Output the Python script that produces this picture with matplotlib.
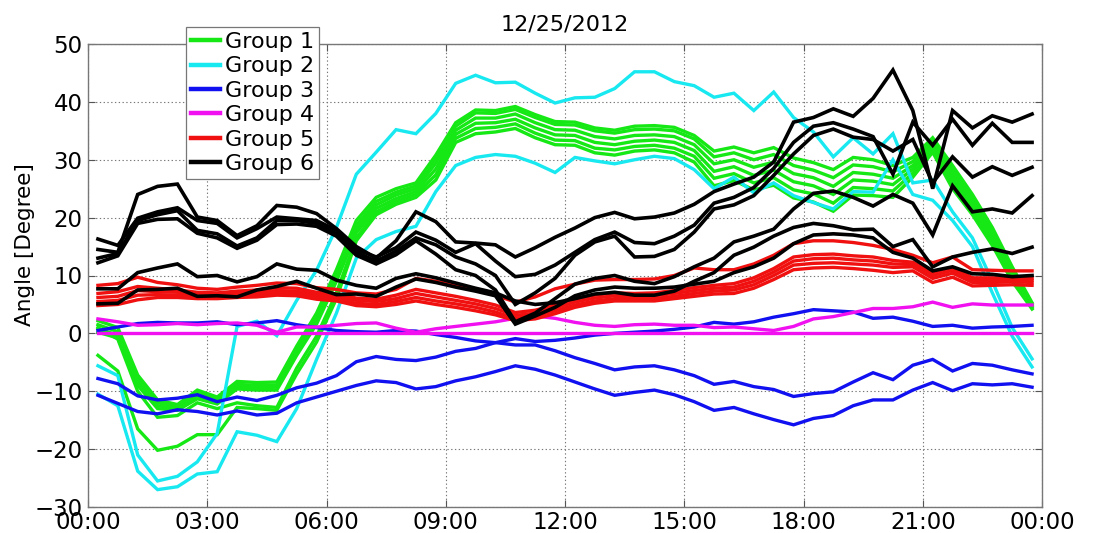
import matplotlib
matplotlib.use('Agg')
import matplotlib.pyplot as plt
import numpy as np

# time axis (hours of the day), 30-min samples
hours = np.arange(0.25, 24.0, 0.5)

# ---- Group 1 (green)
g1_a = [2.2, 1.0, -7.2, -11.5, -12.3, -9.8, -11.0, -8.3, -8.5, -8.4, -2.2, 3.5, 11.0, 19.5, 23.5, 25.0, 26.0, 30.8, 36.4, 38.6, 38.5, 39.2, 37.8, 36.6, 36.5, 35.5, 35.1, 35.8, 35.9, 35.6, 34.2, 31.5, 32.2, 31.2, 32.1, 30.3, 29.5, 28.3, 30.4, 30.0, 29.0, 30.4, 33.8, 29.0, 24.0, 18.3, 11.5, 5.3]
g1_b = [1.5, 0.3, -7.8, -12.0, -12.6, -10.3, -11.4, -8.8, -9.0, -8.9, -2.8, 2.8, 10.3, 18.7, 22.8, 24.4, 25.5, 30.2, 35.8, 38.1, 38.0, 38.7, 37.3, 36.1, 36.0, 35.0, 34.6, 35.2, 35.3, 35.0, 33.6, 30.5, 31.2, 30.0, 30.9, 29.0, 28.2, 26.9, 29.1, 28.8, 27.9, 29.7, 33.3, 28.2, 23.3, 17.6, 11.0, 5.0]
g1_c = [0.8, -0.3, -8.4, -12.5, -13.0, -10.8, -11.8, -9.2, -9.4, -9.3, -3.3, 2.2, 9.6, 18.0, 22.2, 23.9, 25.0, 29.4, 35.1, 37.2, 37.2, 37.9, 36.4, 35.2, 35.1, 34.0, 33.6, 34.2, 34.3, 34.0, 32.6, 29.3, 30.0, 28.7, 29.6, 27.6, 26.9, 25.4, 27.8, 27.5, 26.8, 29.0, 32.8, 27.4, 22.6, 17.0, 10.5, 4.8]
g1_d = [0.2, -0.8, -9.0, -13.0, -13.3, -11.3, -12.2, -9.6, -9.8, -9.8, -3.8, 1.6, 9.0, 17.4, 21.6, 23.3, 24.5, 28.4, 34.4, 36.3, 36.4, 37.0, 35.5, 34.3, 34.2, 33.0, 32.6, 33.2, 33.4, 33.0, 31.6, 28.0, 28.8, 27.3, 28.2, 26.2, 25.5, 24.0, 26.5, 26.3, 25.7, 28.4, 32.3, 26.6, 21.9, 16.4, 10.0, 4.6]
g1_e = [1.0, -1.0, -10.0, -14.5, -14.2, -12.0, -13.0, -12.0, -12.5, -12.8, -6.0, -0.5, 7.0, 16.5, 21.0, 22.8, 24.0, 27.4, 33.7, 35.4, 35.6, 36.2, 34.6, 33.4, 33.3, 32.0, 31.7, 32.3, 32.5, 32.0, 30.6, 26.8, 27.6, 26.0, 26.9, 24.8, 24.1, 22.5, 25.2, 25.0, 24.6, 27.7, 31.8, 25.8, 21.2, 15.8, 9.5, 4.4]
g1_f = [-3.8, -6.5, -16.5, -20.2, -19.5, -17.5, -17.5, -12.8, -13.0, -13.3, -7.0, -1.5, 6.0, 16.0, 20.5, 22.3, 23.5, 26.5, 33.0, 34.5, 34.8, 35.4, 33.8, 32.6, 32.5, 31.2, 30.8, 31.5, 31.7, 31.2, 29.6, 25.5, 26.4, 24.8, 25.6, 23.4, 22.7, 21.1, 23.9, 23.8, 23.5, 27.0, 31.3, 25.0, 20.5, 15.2, 9.0, 4.2]

# ---- Group 2 (cyan)
g2_a = [-5.6, -7.3, -21.0, -25.5, -24.7, -22.2, -17.3, 1.2, 2.1, -0.4, 5.7, 10.9, 18.3, 27.5, 31.3, 35.2, 34.5, 38.0, 43.2, 44.6, 43.3, 43.4, 41.5, 39.8, 40.7, 40.8, 42.3, 45.2, 45.2, 43.5, 42.8, 40.8, 41.5, 38.5, 41.7, 37.3, 34.8, 30.5, 33.8, 31.0, 34.5, 26.0, 26.5, 21.0, 16.5, 9.0, 1.0, -4.4]
g2_b = [-10.5, -12.5, -23.8, -27.0, -26.5, -24.3, -23.9, -17.0, -17.6, -18.7, -13.0, -4.5, 3.5, 13.0, 16.2, 17.6, 18.5, 24.5, 29.0, 30.4, 30.9, 30.6, 29.4, 27.8, 30.4, 29.8, 29.3, 30.0, 30.6, 30.2, 28.3, 25.0, 27.0, 24.3, 26.0, 23.8, 22.6, 21.5, 24.5, 24.4, 30.0, 24.0, 23.0, 19.5, 15.0, 7.0, -0.5, -5.8]

# ---- Group 3 (blue)
g3_a = [0.5, 1.1, 1.7, 1.9, 1.8, 1.8, 2.0, 1.5, 1.8, 2.2, 1.5, 1.0, 0.5, 0.3, 0.2, 0.5, 0.4, -0.2, -0.7, -1.3, -1.6, -2.0, -2.0, -3.0, -4.2, -5.2, -6.3, -5.8, -5.6, -6.3, -7.3, -8.8, -8.3, -9.2, -9.7, -10.9, -10.4, -10.1, -8.4, -6.8, -8.0, -5.5, -4.5, -6.5, -5.2, -5.5, -6.3, -7.0]
g3_b = [-7.8, -8.7, -10.8, -11.5, -11.2, -10.6, -11.8, -11.0, -11.6, -10.7, -9.4, -8.6, -7.3, -4.9, -4.0, -4.5, -4.7, -4.1, -3.1, -2.6, -1.6, -0.9, -1.4, -1.2, -0.8, -0.3, 0.0, 0.2, 0.4, 0.7, 1.1, 1.9, 1.6, 2.0, 2.8, 3.4, 4.1, 3.9, 3.7, 2.6, 2.8, 2.1, 1.2, 1.4, 0.9, 1.1, 1.2, 1.4]
g3_c = [-10.7, -12.1, -13.5, -13.9, -13.2, -13.5, -14.1, -13.4, -14.1, -13.8, -12.0, -11.0, -10.0, -9.0, -8.2, -8.5, -9.6, -9.2, -8.2, -7.5, -6.6, -5.6, -6.2, -7.2, -8.4, -9.6, -10.7, -10.2, -9.8, -10.6, -11.8, -13.3, -12.8, -13.9, -14.9, -15.8, -14.7, -14.2, -12.5, -11.5, -11.5, -9.8, -8.5, -9.9, -8.7, -8.9, -8.7, -9.3]

# ---- Group 4 (magenta)
g4_a = [0.0, 0.0, 0.0, 0.0, 0.0, 0.0, 0.0, 0.0, 0.0, 0.0, 0.0, 0.0, 0.0, 0.0, 0.0, 0.0, 0.0, 0.0, 0.0, 0.0, 0.0, 0.0, 0.0, 0.0, 0.0, 0.0, 0.0, 0.0, 0.0, 0.0, 0.0, 0.0, 0.0, 0.0, 0.0, 0.0, 0.0, 0.0, 0.0, 0.0, 0.0, 0.0, 0.0, 0.0, 0.0, 0.0, 0.0, 0.0]
g4_b = [2.5, 2.0, 1.4, 1.5, 1.7, 1.5, 1.7, 1.8, 1.4, 0.2, 1.1, 1.1, 1.4, 1.7, 1.8, 0.9, 0.2, 0.8, 1.2, 1.6, 2.0, 2.6, 3.0, 2.6, 1.9, 1.4, 1.2, 1.5, 1.6, 1.4, 1.4, 1.0, 1.1, 0.8, 0.5, 1.2, 2.5, 2.9, 3.6, 4.3, 4.3, 4.6, 5.4, 4.5, 5.1, 4.9, 4.9, 4.9]

# ---- Group 5 (red)
g5_a = [8.3, 8.6, 9.7, 8.8, 8.4, 7.8, 7.6, 8.0, 8.3, 8.7, 8.6, 7.9, 7.6, 7.0, 6.8, 7.6, 9.5, 9.0, 8.3, 7.6, 6.6, 5.4, 6.3, 7.7, 8.5, 9.2, 9.3, 9.3, 9.4, 10.0, 11.3, 11.0, 11.0, 12.0, 13.5, 15.5, 16.0, 16.0, 15.7, 15.2, 14.5, 13.5, 12.2, 13.2, 11.0, 10.9, 10.8, 10.8]
g5_b = [6.9, 7.2, 8.1, 7.8, 7.5, 7.1, 7.0, 7.3, 7.5, 7.9, 7.8, 7.1, 6.8, 6.1, 5.9, 6.6, 7.6, 7.0, 6.4, 5.7, 4.9, 3.6, 4.0, 4.9, 5.9, 6.6, 7.0, 6.9, 7.0, 7.4, 7.9, 8.3, 8.6, 9.6, 11.2, 13.2, 13.6, 13.7, 13.4, 13.2, 12.6, 12.3, 10.5, 11.4, 9.6, 9.6, 9.6, 9.5]
g5_c = [6.2, 6.4, 7.4, 7.2, 7.1, 6.7, 6.6, 6.9, 7.1, 7.4, 7.3, 6.7, 6.4, 5.7, 5.5, 6.0, 6.9, 6.3, 5.7, 5.1, 4.3, 3.1, 3.5, 4.4, 5.4, 6.1, 6.5, 6.4, 6.5, 6.9, 7.4, 7.8, 8.0, 9.0, 10.6, 12.5, 12.9, 13.0, 12.7, 12.5, 12.0, 11.9, 10.0, 10.9, 9.2, 9.2, 9.3, 9.2]
g5_d = [5.5, 5.7, 6.6, 6.7, 6.6, 6.4, 6.3, 6.6, 6.7, 7.0, 6.9, 6.3, 6.0, 5.2, 5.0, 5.5, 6.2, 5.6, 5.1, 4.5, 3.7, 2.6, 3.0, 3.9, 4.9, 5.6, 6.0, 6.0, 6.0, 6.4, 6.9, 7.3, 7.5, 8.4, 10.0, 11.8, 12.1, 12.2, 12.0, 11.8, 11.4, 11.5, 9.5, 10.4, 8.8, 8.8, 8.9, 8.8]
g5_e = [4.8, 5.0, 5.8, 6.2, 6.2, 6.0, 6.0, 6.2, 6.3, 6.6, 6.5, 5.9, 5.6, 4.8, 4.6, 5.0, 5.6, 5.0, 4.5, 3.9, 3.2, 2.2, 2.5, 3.4, 4.5, 5.2, 5.6, 5.6, 5.6, 6.0, 6.4, 6.8, 6.9, 7.8, 9.3, 11.0, 11.3, 11.4, 11.2, 10.9, 10.5, 10.8, 8.8, 9.7, 8.2, 8.3, 8.4, 8.3]

# ---- Group 6 (black)
g6_a = [14.5, 14.0, 24.0, 25.4, 25.8, 20.1, 19.5, 16.9, 18.6, 22.1, 21.8, 20.7, 18.1, 15.0, 13.0, 16.0, 21.0, 19.3, 15.8, 15.6, 15.3, 13.2, 14.8, 16.6, 18.2, 20.0, 20.9, 19.8, 20.1, 20.8, 22.3, 24.5, 25.8, 27.0, 29.6, 36.5, 37.3, 38.8, 37.5, 40.6, 45.5, 38.5, 25.0, 38.5, 35.5, 37.6, 36.5, 37.9]
g6_b = [16.3, 15.2, 19.9, 21.0, 21.7, 19.5, 19.0, 16.5, 18.1, 20.1, 19.8, 19.5, 17.8, 14.5, 13.2, 14.8, 17.5, 16.1, 14.0, 15.5, 12.5, 9.8, 10.2, 11.8, 14.0, 16.2, 17.5, 15.7, 15.5, 16.8, 18.7, 22.5, 23.5, 25.2, 28.5, 33.0, 35.8, 36.4, 35.3, 34.0, 27.5, 36.5, 32.5, 37.0, 32.5, 36.3, 33.0, 33.0]
g6_c = [13.0, 13.8, 19.5, 20.5, 21.2, 17.8, 17.2, 15.1, 16.5, 19.5, 19.5, 19.0, 17.2, 14.0, 12.5, 14.2, 16.5, 15.3, 13.2, 12.0, 10.0, 5.0, 7.0, 9.5, 13.5, 15.8, 16.8, 13.2, 13.3, 14.5, 17.5, 21.5, 22.2, 23.8, 27.3, 31.0, 34.2, 35.3, 33.9, 33.5, 31.5, 33.5, 26.0, 30.5, 27.0, 28.8, 27.3, 28.7]
g6_d = [12.2, 13.4, 19.0, 19.7, 19.8, 17.3, 16.5, 14.7, 16.1, 18.8, 18.9, 18.5, 16.8, 13.5, 12.0, 13.6, 16.0, 13.7, 11.0, 10.0, 7.5, 2.0, 3.5, 6.0, 8.5, 9.5, 10.0, 9.0, 8.6, 9.8, 11.5, 13.0, 15.8, 16.8, 18.0, 21.5, 24.2, 24.6, 23.5, 22.0, 24.0, 22.5, 17.0, 25.5, 21.0, 21.5, 20.8, 23.8]
g6_e = [7.7, 7.7, 10.5, 11.3, 12.0, 9.8, 10.0, 8.9, 9.8, 12.0, 11.1, 10.9, 9.2, 8.3, 7.8, 9.5, 10.3, 9.6, 8.7, 7.8, 7.0, 5.6, 5.0, 5.3, 6.0, 6.8, 7.1, 6.6, 6.6, 7.3, 9.0, 10.5, 13.5, 14.9, 16.8, 18.3, 19.0, 18.6, 17.9, 18.0, 15.0, 16.2, 11.5, 13.2, 14.0, 14.6, 13.8, 14.9]
g6_f = [5.1, 5.2, 7.5, 7.6, 7.8, 6.4, 6.5, 6.3, 7.5, 8.1, 9.0, 7.8, 6.7, 6.8, 6.4, 8.0, 9.4, 8.8, 8.0, 7.3, 6.5, 1.6, 3.0, 4.5, 6.5, 7.5, 8.0, 7.8, 7.8, 8.0, 8.5, 9.0, 10.5, 11.5, 13.0, 15.5, 17.0, 17.2, 17.0, 16.5, 14.0, 13.0, 10.8, 11.5, 10.3, 10.2, 9.8, 10.0]

group_names = ['Group 1', 'Group 2', 'Group 3', 'Group 4', 'Group 5', 'Group 6']
group_colors = ['#16e816', '#18e8f0', '#1010f0', '#f010f0', '#f01010', '#000000']
groups = [
    [g1_a, g1_b, g1_c, g1_d, g1_e, g1_f],
    [g2_a, g2_b],
    [g3_a, g3_b, g3_c],
    [g4_a, g4_b],
    [g5_a, g5_b, g5_c, g5_d, g5_e],
    [g6_a, g6_b, g6_c, g6_d, g6_e, g6_f],
]

x_ticks = [0, 3, 6, 9, 12, 15, 18, 21, 24]
x_tick_labels = ['00:00', '03:00', '06:00', '09:00', '12:00', '15:00', '18:00', '21:00', '00:00']
y_ticks = [-30, -20, -10, 0, 10, 20, 30, 40, 50]

plt.rcParams['font.family'] = ['DejaVu Sans']

W, H = 1095, 533
fig = plt.figure(figsize=(W / 100, H / 100), dpi=100)
ax = fig.add_axes([88 / W, 1 - 507 / H, (1042 - 88) / W, (507 - 44) / H])

handles = []
for name, color, lines in zip(group_names, group_colors, groups):
    for k, series in enumerate(lines):
        lw = 2.4 if color != '#000000' else 2.6
        ln, = ax.plot(hours, series, color=color, lw=lw, solid_joinstyle='miter',
                      label=name if k == 0 else None, zorder=3)
        if k == 0:
            handles.append(ln)

ax.set_xlim(0, 24)
ax.set_ylim(-30, 50)
ax.set_xticks(x_ticks)
ax.set_xticklabels(x_tick_labels)
ax.set_yticks(y_ticks)
ax.tick_params(axis='both', which='both', direction='in', length=5, width=0.8,
               top=True, right=True, labelsize=16.5, colors='#555555', labelcolor='black', pad=4)
ax.tick_params(axis='x', pad=3)
ax.grid(True, color='#777777', linestyle=(0, (1.2, 2.2)), linewidth=0.8, zorder=0)
for sp in ax.spines.values():
    sp.set_color('#777777')
    sp.set_linewidth(1.0)

ax.set_title('12/25/2012', fontsize=16, pad=10)
ax.set_ylabel('Angle [Degree]', fontsize=15.5)
ax.yaxis.set_label_coords(-0.056, 0.566)

leg = ax.legend(handles=handles, loc='upper left',
                bbox_to_anchor=(186 / W, 1 - 27 / H), bbox_transform=fig.transFigure,
                fontsize=16, handlelength=1.3, handletextpad=0.25, labelspacing=0.2,
                borderpad=0.22, borderaxespad=0, fancybox=False, framealpha=1,
                edgecolor='#777777')
leg.get_frame().set_linewidth(0.9)
for lh in leg.get_lines():
    lh.set_linewidth(3.2)
leg.set_zorder(10)

fig.savefig('out.png', dpi=100)
